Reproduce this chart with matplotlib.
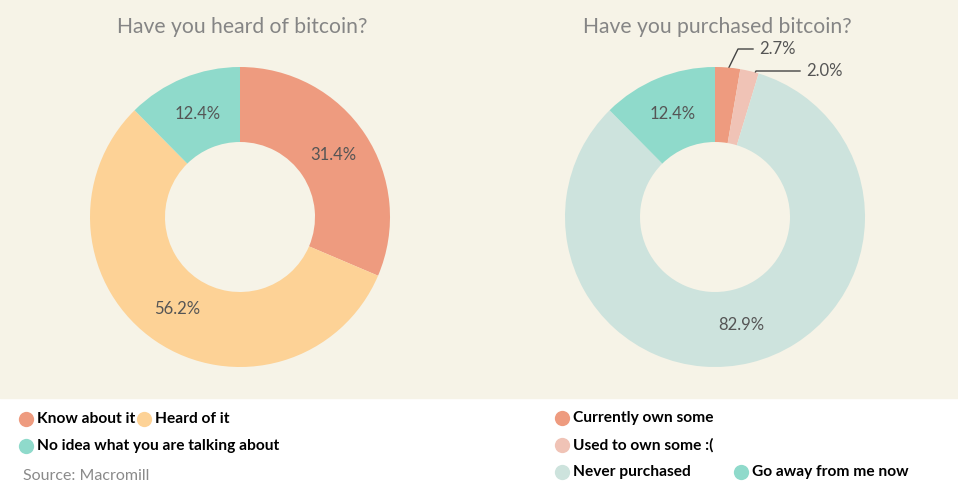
import numpy as np
import matplotlib.pyplot as plt
from matplotlib.patches import Rectangle

plt.rcParams['font.family'] = ['Lato', 'DejaVu Sans']

# data
heard_labels = ["Know about it", "Heard of it", "No idea what you are talking about"]
heard_values = [31.4, 56.2, 12.4]
heard_colors = ["#ee9b7f", "#fdd296", "#8fdacb"]

bought_labels = ["Currently own some", "Used to own some :(", "Never purchased", "Go away from me now"]
bought_values = [2.7, 2.0, 82.9, 12.4]
bought_colors = ["#ee9b7f", "#f0c3b6", "#cde3dd", "#8fdacb"]

BG = "#f6f3e7"
W, H = 958, 492

fig = plt.figure(figsize=(W / 100, H / 100), dpi=100)
fig.patch.set_facecolor("white")

# beige band behind the charts
base = fig.add_axes([0, 0, 1, 1])
base.set_xlim(0, W)
base.set_ylim(H, 0)
base.axis("off")
base.add_patch(Rectangle((0, 0), W, 397.5, color=BG, zorder=0))


def donut(cx, cy, r, values, colors, title, small=0):
    ax = fig.add_axes([(cx - r) / W, (H - cy - r) / H, 2 * r / W, 2 * r / H])
    wedges, _ = ax.pie(values, colors=colors, startangle=90, counterclock=False,
                       radius=1, wedgeprops=dict(width=0.5, linewidth=0))
    ax.set_xlim(-1, 1)
    ax.set_ylim(-1, 1)
    ax.set_aspect("equal")
    ax.axis("off")
    for i, (w, v) in enumerate(zip(wedges, values)):
        if i < small:
            continue
        ang = np.deg2rad((w.theta1 + w.theta2) / 2)
        ax.text(0.745 * np.cos(ang), 0.745 * np.sin(ang), f"{v:.1f}%",
                ha="center", va="center", fontsize=12, color="#555555")
    base.text(cx + 2, 27, title, ha="center", va="center", fontsize=15.2, color="#858585")
    return ax, wedges


donut(240, 217, 150, heard_values, heard_colors, "Have you heard of bitcoin?")
ax2, w2 = donut(715, 217, 150, bought_values, bought_colors, "Have you purchased bitcoin?", small=2)

# leader lines for the thin slices
leaders = [(0.98, (738, 49), (753, 49)), (0.85, (756, 71), (800, 71))]
for i, (rr, bend, end) in enumerate(leaders):
    w = w2[i]
    ang = np.deg2rad((w.theta1 + w.theta2) / 2)
    px = 715 + 150 * rr * np.cos(ang)
    py = 217 - 150 * rr * np.sin(ang)
    base.plot([px, bend[0], end[0]], [py, bend[1], end[1]], color="#444444", lw=1, zorder=5)
    base.text(end[0] + 6, end[1], f"{bought_values[i]:.1f}%", ha="left", va="center",
              fontsize=12, color="#555555", zorder=5)

# legends
legend_pos_left = [(26, 419), (144, 419), (26, 446)]
legend_pos_right = [(562, 418), (562, 445), (562, 472), (741, 472)]
for lab, col, (x, y) in zip(heard_labels, heard_colors, legend_pos_left):
    base.plot(x, y, "o", ms=11, color=col, mec="none")
    base.text(x + 11, y, lab, ha="left", va="center", fontsize=11.2, fontweight="bold", color="black")
for lab, col, (x, y) in zip(bought_labels, bought_colors, legend_pos_right):
    base.plot(x, y, "o", ms=11, color=col, mec="none")
    base.text(x + 11, y, lab, ha="left", va="center", fontsize=11.2, fontweight="bold", color="black")

base.text(23, 476, "Source: Macromill", ha="left", va="center", fontsize=11.5, color="#8a8a8a")

fig.savefig("out.png", dpi=100, facecolor=fig.get_facecolor())
